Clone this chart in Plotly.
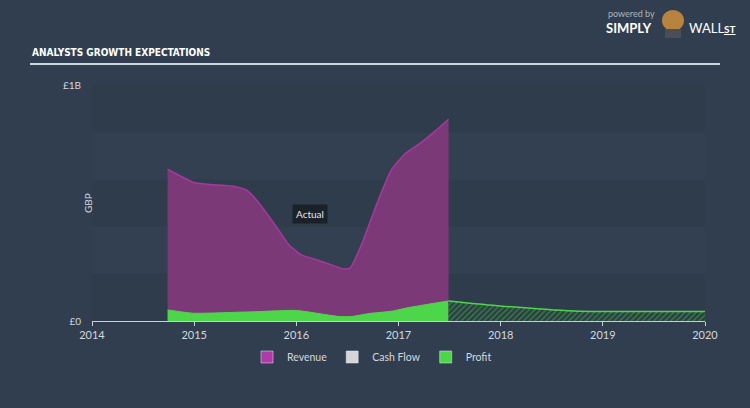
import plotly.graph_objects as go

# ---- data (GBP billions) ----
rev_years = [2014.74, 2014.99, 2015.13, 2015.37, 2015.51, 2015.61, 2015.77, 2015.93, 2016.05,
             2016.21, 2016.33, 2016.47, 2016.53, 2016.65, 2016.77, 2016.93, 2017.07, 2017.21,
             2017.37, 2017.49]
revenue = [0.643, 0.588, 0.579, 0.572, 0.555, 0.513, 0.421, 0.322, 0.280,
           0.258, 0.240, 0.220, 0.226, 0.336, 0.477, 0.640, 0.711, 0.753,
           0.809, 0.855]

profit_years = [2014.74, 2014.99, 2015.50, 2015.98, 2016.06, 2016.42, 2016.54, 2016.70,
                2016.94, 2017.10, 2017.49]
profit = [0.047, 0.033, 0.038, 0.045, 0.042, 0.019, 0.019, 0.031, 0.042, 0.057, 0.085]

fc_years = [2017.49, 2017.99, 2018.72, 2018.99, 2020.0]
profit_fc = [0.085, 0.064, 0.042, 0.040, 0.040]

tick_years = [2014, 2015, 2016, 2017, 2018, 2019, 2020]
y_ticks = [0, 1.0]
y_ticktext = ["£0", "£1B"]
legend_names = ["Revenue", "Cash Flow", "Profit"]
legend_colors = ["#b23aa6", "#d6d6d6", "#4ed64a"]

W, H = 750, 408
L, R, T, B = 92, 45, 85, 87
PW, PH = W - L - R, H - T - B


def px(x):
    return (x - L) / PW


def py(y):
    return (H - B - y) / PH


PAPER = "#313e4f"
TXT = "#d3d8de"
FONT = "Lato, 'Open Sans', sans-serif"

fig = go.Figure()

fig.add_trace(go.Scatter(
    x=rev_years, y=revenue, mode="lines", line=dict(color="#a8379f", width=1.5, shape="spline", smoothing=0.5),
    fill="tozeroy", fillcolor="#7b3a77", showlegend=False, hoverinfo="skip"))

fig.add_trace(go.Scatter(
    x=profit_years, y=profit, mode="lines", line=dict(color="#4ed64a", width=1, shape="spline", smoothing=0.5),
    fill="tozeroy", fillcolor="#4ed64a", showlegend=False, hoverinfo="skip"))

fig.add_trace(go.Scatter(
    x=fc_years, y=profit_fc, mode="lines", line=dict(color="#4ed64a", width=1.5, shape="spline", smoothing=0.5),
    fill="tozeroy", fillcolor="#2c3a47",
    fillpattern=dict(shape="/", fgcolor="#3fb33d", bgcolor="#2c3a47", size=4, solidity=0.45),
    showlegend=False, hoverinfo="skip"))

for n, c in zip(legend_names, legend_colors):
    fig.add_trace(go.Bar(x=[None], y=[None], name=n, marker=dict(color=c), showlegend=True))

# background bands
band_cols = ["#2f3c4c", "#324051"]
for i in range(5):
    fig.add_shape(type="rect", xref="x", yref="y", x0=2014, x1=2020, y0=i * 0.2, y1=(i + 1) * 0.2,
                  fillcolor=band_cols[i % 2], line=dict(width=0), layer="below")

# title and underline
fig.add_annotation(xref="paper", yref="paper", x=px(30), y=py(53), xanchor="left", yanchor="middle",
                   text="<b>ANALYSTS GROWTH EXPECTATIONS</b>", showarrow=False,
                   font=dict(family="DejaVu Sans Condensed", size=10, color="#ffffff"))
fig.add_shape(type="line", xref="paper", yref="paper", x0=px(30), x1=px(720), y0=py(64), y1=py(64),
              line=dict(color="#c8d5de", width=2))

# logo
fig.add_annotation(xref="paper", yref="paper", x=px(606), y=py(14), xanchor="left", yanchor="middle",
                   text="powered by", showarrow=False, font=dict(family=FONT, size=9, color="#aab4be"))
fig.add_annotation(xref="paper", yref="paper", x=px(604), y=py(28), xanchor="left", yanchor="middle",
                   text="<b>SIMPLY</b>", showarrow=False, font=dict(family=FONT, size=13, color="#ffffff"))
fig.add_annotation(xref="paper", yref="paper", x=px(687), y=py(28), xanchor="left", yanchor="middle",
                   text="WALL<b><u><span style='font-size:10px'>ST</span></u></b>", showarrow=False,
                   font=dict(family=FONT, size=13, color="#ffffff"))
fig.add_shape(type="circle", xref="paper", yref="paper", x0=px(662), x1=px(684), y0=py(31), y1=py(10),
              fillcolor="#b8833e", line=dict(width=0))
fig.add_shape(type="rect", xref="paper", yref="paper", x0=px(665), x1=px(681), y0=py(38), y1=py(29),
              fillcolor="#4a4f57", line=dict(width=0))

# Actual label
fig.add_annotation(x=2016.13, y=(H - B - 214) / PH, xref="x", yref="y", text="Actual", showarrow=False,
                   bgcolor="#1b2129", borderpad=3, font=dict(family=FONT, size=10, color="#e6e6e6"))

# GBP label
fig.add_annotation(xref="paper", yref="paper", x=px(80), y=py(203), text="GBP", textangle=-90,
                   showarrow=False, font=dict(family=FONT, size=10, color=TXT))

fig.update_layout(
    width=W, height=H, margin=dict(l=L, r=R, t=T, b=B),
    paper_bgcolor=PAPER, plot_bgcolor=PAPER,
    font=dict(family=FONT, color=TXT, size=11),
    barmode="overlay",
    legend=dict(orientation="h", x=px(372), y=py(357), xanchor="center", yanchor="middle",
                font=dict(size=10.5, color=TXT), bgcolor="rgba(0,0,0,0)", itemclick=False),
    xaxis=dict(range=[2014, 2020], tickvals=tick_years, ticktext=[str(t) for t in tick_years],
               showgrid=False, zeroline=False, showline=True, linecolor="#c6ced6", linewidth=1,
               ticks="outside", ticklen=4, tickcolor="#c6ced6", tickfont=dict(size=11, color=TXT)),
    yaxis=dict(range=[0, 1.0], tickvals=y_ticks, ticktext=y_ticktext, showgrid=False, zeroline=False,
               showline=False, ticks="", ticklabelstandoff=10, tickfont=dict(size=10, color=TXT)),
)

fig.write_html("out.html")
